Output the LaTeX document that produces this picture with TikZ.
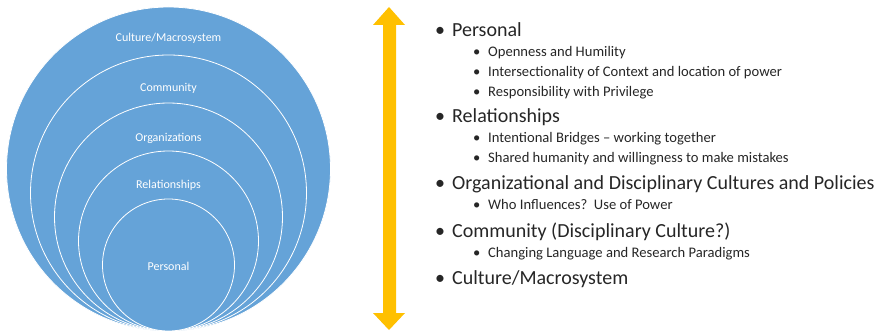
\documentclass[tikz,border=0pt]{standalone}
\usepackage{fontspec}
\setmainfont{Carlito}
\usetikzlibrary{positioning}
\definecolor{ringblue}{HTML}{65A3D8}
\definecolor{arrowgold}{HTML}{FFC000}
\tikzset{
  ring/.style={circle,draw=white,fill=ringblue,line width=0.8pt,inner sep=0pt,outer sep=0pt,anchor=south},
  ringlabel/.style={text=white,font=\fontsize{12}{14}\selectfont},
  item/.style={anchor=base west,inner sep=0pt,text=black!85,font=\fontsize{20}{22}\selectfont},
  subitem/.style={anchor=base west,inner sep=0pt,text=black!85,font=\fontsize{14.6}{17}\selectfont},
}
\newcommand{\bul}[1]{\makebox[#1][l]{\textbullet}}
\begin{document}
\begin{tikzpicture}[x=1pt,y=-1pt]
  \useasboundingbox (0,0) rectangle (886,331);
  % nested rings, all resting on one bottom point
  \coordinate (base) at (168.5,331);
  \node[ring,minimum size=324pt] (macro) at (base) {};
  \node[ring,minimum size=276pt] (comm) at (base) {};
  \node[ring,minimum size=228pt] (org) at (base) {};
  \node[ring,minimum size=180pt] (rel) at (base) {};
  \node[ring,minimum size=132pt] (pers) at (base) {};
  \node[ringlabel,below=31pt of macro.north,anchor=center] (lmacro) {Culture/Macrosystem};
  \node[ringlabel,below=33pt of comm.north,anchor=center] (lcomm) {Community};
  \node[ringlabel,below=35pt of org.north,anchor=center] (lorg) {Organizations};
  \node[ringlabel,below=34pt of rel.north,anchor=center] (lrel) {Relationships};
  \node[ringlabel,below=1pt of pers.center,anchor=center] (lpers) {Personal};
  % two-headed scale arrow
  \fill[arrowgold] (389,7) -- (405,25) -- (396,25) -- (396,313) -- (405,313) -- (389,330)
    -- (373,313) -- (383,313) -- (383,25) -- (373,25) -- cycle;
  % the list
  \node[item] (i1) at (435,37) {\bul{17pt}Personal};
  \node[subitem] (s11) at (473,57) {\bul{15pt}Openness and Humility};
  \node[subitem] (s12) at (473,77) {\bul{15pt}Intersectionality of Context and location of power};
  \node[subitem] (s13) at (473,97) {\bul{15pt}Responsibility with Privilege};
  \node[item] (i2) at (435,123) {\bul{17pt}Relationships};
  \node[subitem] (s21) at (473,143) {\bul{15pt}Intentional Bridges -- working together};
  \node[subitem] (s22) at (473,163) {\bul{15pt}Shared humanity and willingness to make mistakes};
  \node[item] (i3) at (435,190) {\bul{17pt}Organizational and Disciplinary Cultures and Policies};
  \node[subitem] (s31) at (473,210) {\bul{15pt}Who Influences?\ \ Use of Power};
  \node[item] (i4) at (435,237) {\bul{17pt}Community (Disciplinary Culture?)};
  \node[subitem] (s41) at (473,257) {\bul{15pt}Changing Language and Research Paradigms};
  \node[item] (i5) at (435,284) {\bul{17pt}Culture/Macrosystem};
\end{tikzpicture}
\end{document}
